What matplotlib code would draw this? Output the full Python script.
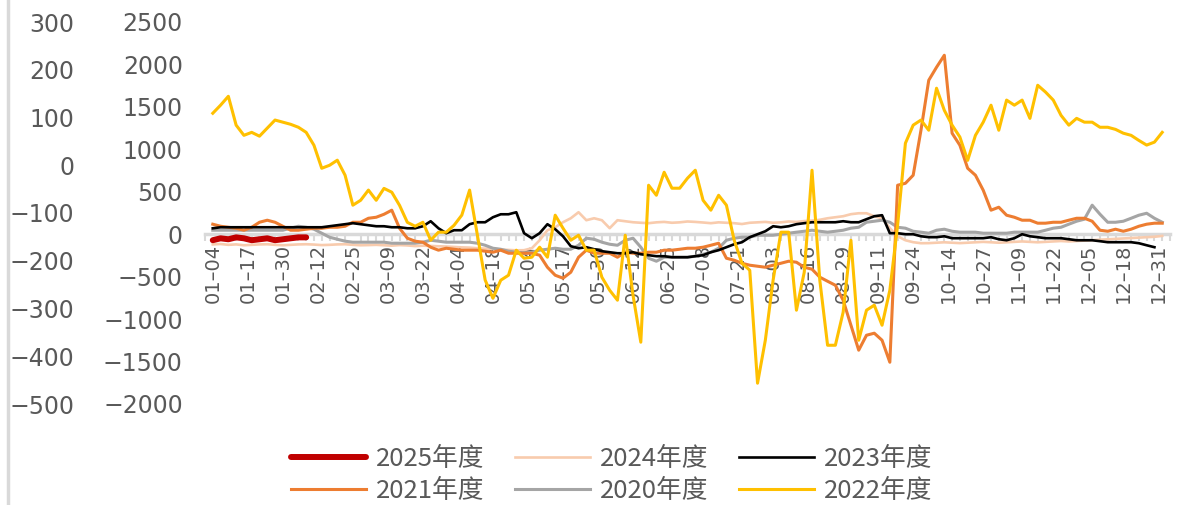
import numpy as np
import matplotlib
matplotlib.use("Agg")
import matplotlib.pyplot as plt
from matplotlib.lines import Line2D
from matplotlib.ticker import MultipleLocator, FixedLocator
from matplotlib.font_manager import FontProperties

# category labels shown along the x axis (every 4.5 points)
date_labels = ['01-04', '01-17', '01-30', '02-12', '02-25', '03-09', '03-22',
               '04-04', '04-18', '05-04', '05-17', '05-30', '06-12', '06-25',
               '07-08', '07-21', '08-03', '08-16', '08-29', '09-11', '09-24',
               '10-14', '10-27', '11-09', '11-22', '12-05', '12-18', '12-31']

# 2025 season (secondary scale)
s2025 = [-157, -153, -155, -151, -153, -157, -155, -153, -157, -155, -153, -151, -151]

s2024 = [-120, -115, -125, -120, -130, -125, -120, -118, -125, -130, -125,
         -120, -118, -122, -128, -125, -120, -118, -125, -130, -128,
         -125, -130, -135, -128, -132, -140, -135, -138, -142, -145,
         -150, -155, -158, -165, -170, -172, -180, -185, -190, -188,
         -165, -71, 47, 82, 141, 188, 259, 165, 188, 165, 71, 165, 153, 141,
         135, 130, 140, 145, 135, 140, 150, 145, 138, 130, 140, 135, 130, 120,
         135, 140, 145, 135, 140, 150, 145, 155, 160, 170,
         188, 200, 212, 236, 247, 247, 212, 188, 71, -24, -71, -94,
         -106, -105, -100, -95, -100, -105, -100, -95, -90, -95, -100, -95,
         -90, -85, -90, -95, -90, -85, -80, -85, -80, -75, -70, -65, -60,
         -55, -50, -45, -40, -35, -30, -20]

s2023 = [70, 82, 82, 82, 82, 82, 82, 82, 82, 82, 82, 82, 82, 82, 82,
         94, 106, 118, 130, 118, 106, 94, 94, 82, 82, 70, 70, 94, 153, 70,
         12, 47, 47, 118, 141, 141, 200, 235, 235, 259, 12, -47, 12, 118, 59,
         -24, -141, -165, -153, -177, -200, -212, -224, -224, -212, -236, -247,
         -259, -259, -271, -271, -271, -259, -247, -212, -188, -153, -118, -94,
         -35, 0, 35, 94, 82, 94, 118, 130, 141, 141, 141, 141, 153, 141, 141,
         177, 212, 224, 12, 12, 0, 0, -24, -35, -35, -24, -47, -47, -47, -47,
         -47, -35, -59, -71, -47, 0, -24, -35, -47, -47, -47, -59, -71, -71,
         -71, -82, -94, -94, -94, -94, -106, -130, -153]

s2022 = [1425, 1520, 1625, 1285, 1165, 1200, 1155, 1250, 1345, 1320, 1295,
         1260, 1200, 1048, 777, 812, 872, 695, 342, 400, 520, 400, 540, 495,
         340, 140, 94, 141, -71, 24, 24, 105, 225, 520, -10, -540, -755,
         -542, -483, -188, -283, -271, -153, -271, 224, 71, -71, -12, -188,
         -188, -507, -660, -777, -12, -719, -1272, 577, 459, 730, 542, 542,
         660, 754, 400, 283, 459, 342, -71, -342, -424, -1755, -1249, -542,
         24, 24, -895, -448, 754, -542, -1308, -1308, -919, -71, -1249, -895,
         -836, -1072, -660, 106, 1072, 1285, 1345, 1225, 1720, 1460, 1285,
         1145, 870, 1165, 1320, 1520, 1225, 1580, 1520, 1580, 1365, 1755,
         1675, 1580, 1400, 1285, 1365, 1320, 1320, 1260, 1260, 1235, 1190,
         1165, 1105, 1050, 1085, 1200]

s2021 = [118, 94, 82, 70, 47, 82, 141, 165, 141, 94, 47, 47, 59, 70, 70, 82,
         82, 94, 141, 141, 188, 200, 235, 283, 70, -47, -82, -94, -153, -188,
         -165, -177, -188, -188, -188, -200, -212, -188, -224, -224, -224,
         -224, -247, -389, -483, -518, -448, -271, -188, -224, -224, -224,
         -271, -212, -224, -224, -212, -212, -188, -188, -177, -165, -165,
         -153, -130, -106, -283, -306, -342, -365, -377, -389, -365, -342,
         -318, -330, -389, -412, -506, -554, -601, -777, -1072, -1366, -1190,
         -1166, -1249, -1508, 577, 600, 695, 1225, 1814, 1967, 2108, 1190,
         1048, 777, 695, 518, 283, 318, 224, 200, 165, 165, 130, 130, 141,
         141, 165, 188, 188, 153, 47, 35, 59, 35, 59, 94, 118, 130, 130]

s2020 = [47, 47, 47, 47, 47, 47, 47, 47, 47, 47, 71, 94, 82, 59, 12, -35,
         -59, -82, -94, -94, -94, -94, -94, -106, -106, -106, -106, -94, -71,
         -82, -94, -94, -94, -94, -106, -130, -165, -177, -200, -212, -224,
         -212, -188, -177, -165, -177, -177, -130, -47, -59, -94, -118, -130,
         -71, -47, -153, -283, -318, -271, -271, -271, -271, -259, -236, -212,
         -165, -71, -47, -35, -35, -12, -12, -12, 0, 12, 24, 35, 47, 35, 24,
         35, 47, 71, 82, 141, 153, 165, 141, 82, 71, 35, 24, 12, 47, 59, 35,
         24, 24, 24, 12, 12, 12, 12, 24, 24, 24, 24, 47, 71, 82, 118, 153,
         177, 342, 236, 141, 141, 153, 188, 224, 247, 188, 141]

colors = {
    '2025': '#C00000',
    '2024': '#F8CBAD',
    '2023': '#000000',
    '2021': '#ED7D31',
    '2020': '#A5A5A5',
    '2022': '#FFC000',
}
text_color = '#595959'
axis_grey = '#D9D9D9'

W, H = 1178, 505
fig = plt.figure(figsize=(W / 100, H / 100), dpi=100)
ax = fig.add_axes([205 / W, 101 / H, 965 / W, 382 / H])
ax2 = ax.twinx()

def xs(values):
    return np.arange(len(values))

l24, = ax.plot(xs(s2024), s2024, color=colors['2024'], lw=1.9, zorder=3, label='2024年度')
l20, = ax.plot(xs(s2020), s2020, color=colors['2020'], lw=2.2, zorder=3, label='2020年度')
l21, = ax.plot(xs(s2021), s2021, color=colors['2021'], lw=2.2, zorder=3, label='2021年度')
l23, = ax.plot(xs(s2023), s2023, color=colors['2023'], lw=1.9, zorder=3, label='2023年度')
l22, = ax.plot(xs(s2022), s2022, color=colors['2022'], lw=2.2, zorder=3, label='2022年度')
l25, = ax2.plot(xs(s2025), s2025, color=colors['2025'], lw=4.3, zorder=3,
                solid_capstyle='round', label='2025年度')

ax.set_xlim(-1, 123)
ax.set_ylim(-2000, 2500)
ax.set_yticks(np.arange(-2000, 2501, 500))
ax2.set_ylim(-500, 300)
ax2.set_yticks(np.arange(-500, 301, 100))

# category axis drawn along the zero line
for s in ['top', 'right', 'left']:
    ax.spines[s].set_visible(False)
ax.spines['bottom'].set_position(('data', 0))
ax.spines['bottom'].set_color(axis_grey)
ax.spines['bottom'].set_linewidth(2.5)
ax.spines['bottom'].set_zorder(2)
for s in ax2.spines.values():
    s.set_visible(False)

ax.xaxis.set_major_locator(FixedLocator(np.arange(len(date_labels)) * 4.5))
ax.set_xticklabels([d.replace('-', '\u2013') for d in date_labels])
ax.xaxis.set_minor_locator(MultipleLocator(1))
ax.tick_params(axis='x', which='major', length=0, pad=7, labelsize=14,
               labelrotation=90, labelcolor=text_color)
ax.tick_params(axis='x', which='minor', length=5, width=1.5, color=axis_grey,
               direction='out')

ax.tick_params(axis='y', length=0, pad=16, labelsize=17, labelcolor=text_color)
ax2.yaxis.tick_left()
ax2.tick_params(axis='y', length=0, pad=94, labelsize=17, labelcolor=text_color)
ax2.tick_params(axis='x', bottom=False, labelbottom=False)

handles = [l25, l21, l24, l20, l23, l22]
leg = fig.legend(handles=handles, labels=[h.get_label() for h in handles],
                 ncol=3, loc='center', bbox_to_anchor=(612 / W, 30 / H),
                 frameon=False,
                 prop=FontProperties(family=['Noto Sans CJK SC', 'DejaVu Sans'], size=18.5),
                 handlelength=2.9, handletextpad=0.4, columnspacing=1.2,
                 labelspacing=0.2, labelcolor=text_color)

# thin frame line on the left edge
fig.add_artist(Line2D([8 / W, 8 / W], [0, 1], color=axis_grey, lw=2.5,
                      transform=fig.transFigure))

fig.savefig('out.png', dpi=100)
